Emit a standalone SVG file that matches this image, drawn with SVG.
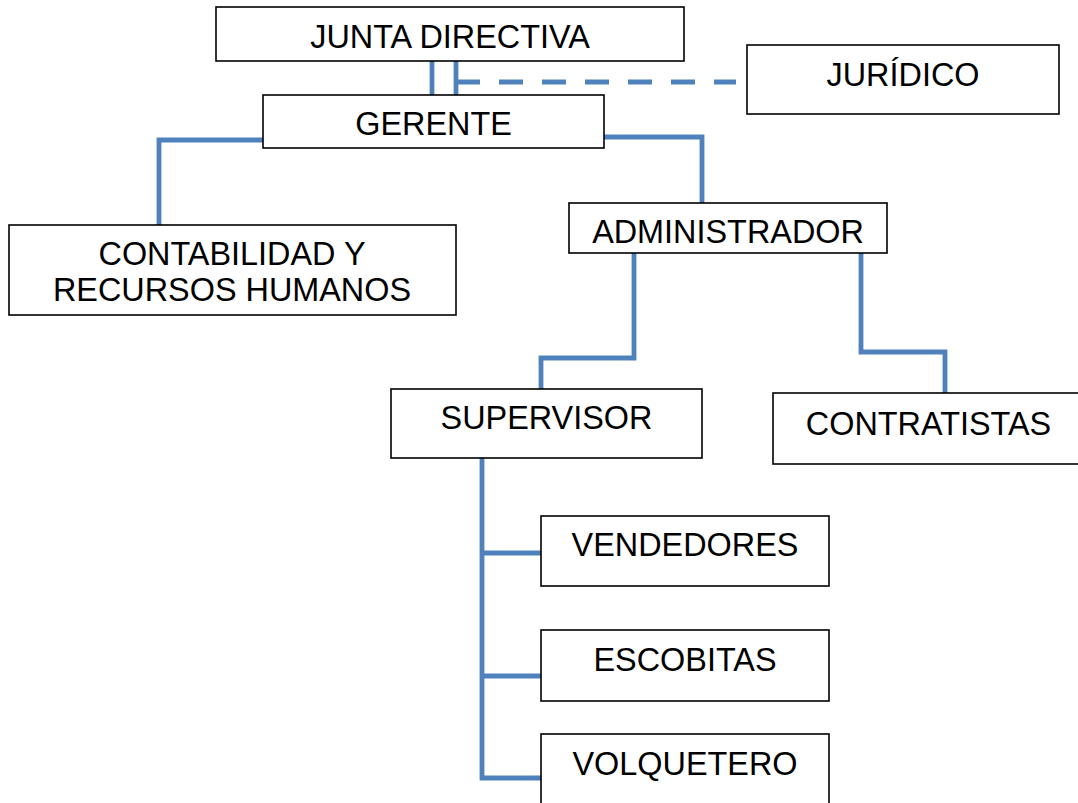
<svg xmlns="http://www.w3.org/2000/svg" width="1078" height="803" viewBox="0 0 1078 803">
<style>
.c{fill:none;stroke:#4F81BD;stroke-width:4.8;stroke-linejoin:miter;stroke-linecap:butt}
.d{stroke-dasharray:24 19}
.b{fill:#fff;stroke:#000;stroke-width:1.6}
.t{font-family:"Liberation Sans",Arial,sans-serif;font-size:32.4px;fill:#000;text-anchor:middle}
</style>
<rect width="1078" height="803" fill="#fff"/>
<g id="connectors">
<path class="c" d="M432,61V96"/>
<path class="c" d="M456,61V96"/>
<path class="c d" d="M456,82H736"/>
<path class="c" d="M264,140H159V226"/>
<path class="c" d="M603,137H702V204"/>
<path class="c" d="M634,252V358H541V390"/>
<path class="c" d="M861,252V352H945V394"/>
<path class="c" d="M482,457V778H541"/>
<path class="c" d="M482,553H541"/>
<path class="c" d="M482,676H541"/>
</g>
<g id="junta"><rect class="b" x="216" y="7" width="468" height="54"/><text class="t" x="450" y="48">JUNTA DIRECTIVA</text></g>
<g id="juridico"><rect class="b" x="747" y="45" width="312" height="69"/><text class="t" x="903" y="86">JURÍDICO</text></g>
<g id="gerente"><rect class="b" x="263" y="95" width="341" height="53"/><text class="t" x="433.5" y="135">GERENTE</text></g>
<g id="contabilidad"><rect class="b" x="9" y="225" width="447" height="90"/><text class="t" x="232" y="265">CONTABILIDAD Y</text><text class="t" x="232" y="301">RECURSOS HUMANOS</text></g>
<g id="administrador"><rect class="b" x="569" y="203" width="318" height="50"/><text class="t" x="728" y="243">ADMINISTRADOR</text></g>
<g id="supervisor"><rect class="b" x="391" y="389" width="311" height="69"/><text class="t" x="546.5" y="429">SUPERVISOR</text></g>
<g id="contratistas"><rect class="b" x="773" y="393" width="311" height="71"/><text class="t" x="928.5" y="435">CONTRATISTAS</text></g>
<g id="vendedores"><rect class="b" x="541" y="516" width="288" height="70"/><text class="t" x="685" y="556">VENDEDORES</text></g>
<g id="escobitas"><rect class="b" x="541" y="630" width="288" height="71"/><text class="t" x="685" y="671">ESCOBITAS</text></g>
<g id="volquetero"><rect class="b" x="541" y="734" width="288" height="72"/><text class="t" x="685" y="775">VOLQUETERO</text></g>
</svg>
